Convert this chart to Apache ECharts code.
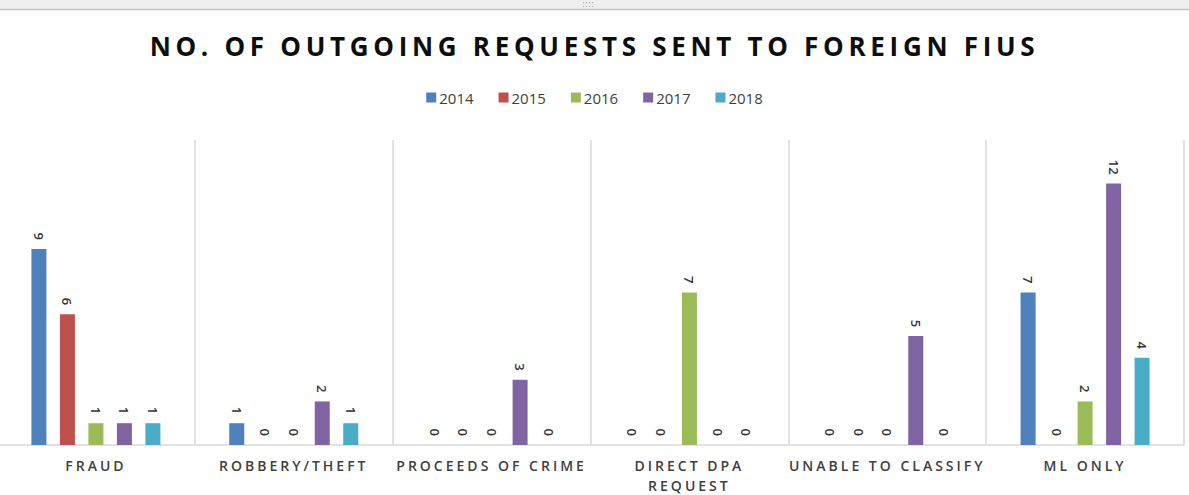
<!DOCTYPE html>
<html>
<head>
<meta charset="utf-8">
<script src="https://cdn.jsdelivr.net/npm/echarts@6/dist/echarts.min.js"></script>
<style>
  html, body { margin: 0; padding: 0; background: #fff; }
  #chart { width: 1189px; height: 495px; }
</style>
</head>
<body>
<div id="chart"></div>
<script>
// categories + yearly counts
var titleText = 'NO. OF OUTGOING REQUESTS SENT TO FOREIGN FIUS';
var categories = ['FRAUD', 'ROBBERY/THEFT', 'PROCEEDS OF CRIME', 'DIRECT DPA\nREQUEST', 'UNABLE TO CLASSIFY', 'ML ONLY'];
var years = ['2014', '2015', '2016', '2017', '2018'];
var v2014 = [9, 1, 0, 0, 0, 7];
var v2015 = [6, 0, 0, 0, 0, 0];
var v2016 = [1, 0, 0, 7, 0, 2];
var v2017 = [1, 2, 3, 0, 5, 12];
var v2018 = [1, 1, 0, 0, 0, 4];
var colors = ['#4F81BD', '#C0504D', '#9BBB59', '#8064A2', '#4BACC6'];

var ink = '#404040', rule = '#d9d9d9';
var values = [v2014, v2015, v2016, v2017, v2018];

// svg renderer so the Excel-style letter spacing can be put on title + axis labels
var chart = echarts.init(document.getElementById('chart'), null, { renderer: 'svg' });

chart.setOption({
  animation: false,
  color: colors,
  title: {
    text: titleText,
    left: 'center', top: 28,
    textStyle: { fontFamily: 'Open Sans', fontSize: 26, fontWeight: 'bold', color: '#0d0d0d' }
  },
  legend: {
    top: 85, left: 'center', itemWidth: 10, itemHeight: 10, itemGap: 25,
    icon: 'rect',
    textStyle: { fontFamily: 'Open Sans', fontSize: 15, color: ink, padding: [0, 0, 0, -2] },
    data: years
  },
  grid: { left: -3, right: 5, top: 140, bottom: 50, outerBoundsMode: 'none', containLabel: false },
  xAxis: {
    type: 'category', data: categories,
    axisLine: { lineStyle: { color: rule, width: 1.5 } },
    axisTick: { show: false },
    splitLine: { show: true, lineStyle: { color: rule, width: 1.5 } },
    axisLabel: { fontFamily: 'Open Sans', fontSize: 14, fontWeight: 600, color: ink, margin: 10, lineHeight: 20, interval: 0 }
  },
  yAxis: { type: 'value', min: 0, max: 14, show: false, splitLine: { show: false } },
  graphic: [
    { type: 'rect', left: 0, top: 0, shape: { width: 1189, height: 9 }, style: { fill: '#efefef' } },
    { type: 'line', shape: { x1: 0, y1: 9.5, x2: 1189, y2: 9.5 }, style: { stroke: '#c4c4c4', lineWidth: 1.5 } },
    { type: 'text', left: 582, top: -1, style: { text: '::::', fill: '#999', font: '9px DejaVu Sans' } }
  ],
  series: years.map(function (y, i) {
    return {
      name: y, type: 'bar', data: values[i],
      barWidth: 15, barGap: '90%',
      itemStyle: { color: colors[i] },
      label: {
        show: true, position: 'top', rotate: -90, distance: 9,
        align: 'right', verticalAlign: 'middle',
        fontFamily: 'Open Sans', fontSize: 13, fontWeight: 600, color: '#333'
      }
    };
  })
});

function spaceOut() {
  var wide = [];
  categories.forEach(function (c) { wide = wide.concat(c.split('\n')); });
  document.querySelectorAll('#chart text, #chart tspan').forEach(function (t) {
    var s = t.textContent;
    if (s === titleText) t.style.letterSpacing = '4.7px';
    else if (wide.indexOf(s) >= 0) t.style.letterSpacing = '3px';
  });
}
spaceOut();
chart.on('finished', spaceOut);
</script>
</body>
</html>
